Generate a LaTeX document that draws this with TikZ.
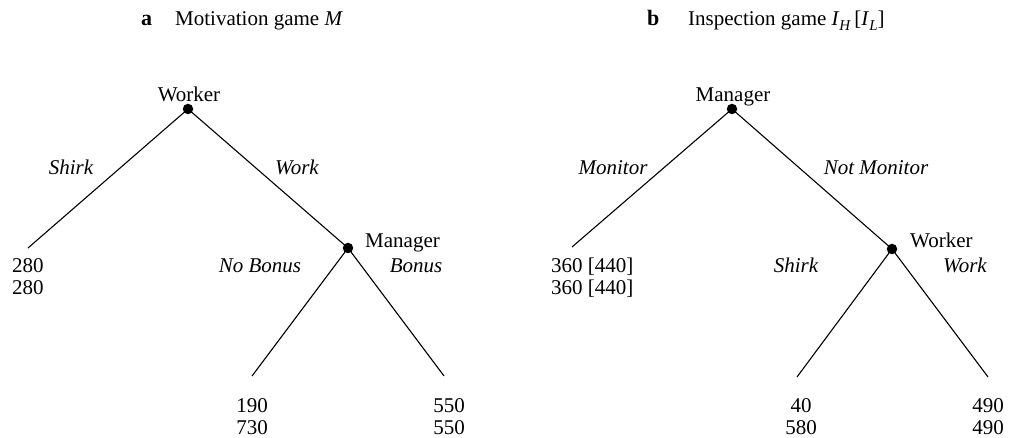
\documentclass[tikz,border=0pt]{standalone}
\usepackage{fontspec}
\setmainfont{Liberation Serif}
\tikzset{
  dot/.style={circle,fill=black,inner sep=0pt,minimum size=10.5pt},
  edge/.style={line width=1.1pt},
  lbl/.style={anchor=base,inner sep=0pt,font=\fontsize{21}{25}\selectfont\itshape},
  txt/.style={inner sep=0pt}
}
\newcommand{\subit}[1]{\raisebox{-0.22em}{\fontsize{15}{15}\selectfont\textit{#1}}}
\begin{document}
\begin{tikzpicture}[x=1pt,y=-1pt,font=\fontsize{21}{25}\selectfont]
\useasboundingbox (0,0) rectangle (1010,438);
% titles
\node[txt,anchor=base west] (ta) at (141,26) {\fontsize{22}{26}\selectfont\textbf{a}};
\node[txt,anchor=base west] (tm) at (175,26) {Motivation game \textit{M}};
\node[txt,anchor=base west] (tb) at (647,26) {\fontsize{22}{26}\selectfont\textbf{b}};
\node[txt,anchor=base west] (ti) at (688,26) {Inspection game \textit{I}\subit{H}\,[\textit{I}\subit{L}]};
% left tree
\node[dot] (w1) at (188,109) {};
\node[txt,anchor=base] (w1l) at (189,102) {Worker};
\coordinate (l1) at (28,248);
\node[dot] (m1) at (348,248) {};
\node[txt,anchor=base west] (m1l) at (365,248) {Manager};
\coordinate (l2) at (252,376);
\coordinate (l3) at (444,376);
\draw[edge] (w1.center) -- (l1);
\draw[edge] (w1.center) -- (m1.center);
\draw[edge] (m1.center) -- (l2);
\draw[edge] (m1.center) -- (l3);
\node[lbl] (e1) at (71,175) {Shirk};
\node[lbl] (e2) at (297,175) {Work};
\node[lbl] (e3) at (260,273) {No Bonus};
\node[lbl] (e4) at (416,273) {Bonus};
\node[txt,anchor=base west] (p1) at (12,273) {280};
\node[txt,anchor=base west] (p1b) at (12,295) {280};
\node[txt,anchor=base] (p2) at (252,413) {190};
\node[txt,anchor=base] (p2b) at (252,435) {730};
\node[txt,anchor=base] (p3) at (449,413) {550};
\node[txt,anchor=base] (p3b) at (449,435) {550};
% right tree
\node[dot] (m2) at (732,109) {};
\node[txt,anchor=base] (m2l) at (733,102) {Manager};
\coordinate (r1) at (572,247);
\node[dot] (w2) at (892,249) {};
\node[txt,anchor=base west] (w2l) at (910,248) {Worker};
\coordinate (r2) at (797,377);
\coordinate (r3) at (988,377);
\draw[edge] (m2.center) -- (r1);
\draw[edge] (m2.center) -- (w2.center);
\draw[edge] (w2.center) -- (r2);
\draw[edge] (w2.center) -- (r3);
\node[lbl] (f1) at (613,175) {Monitor};
\node[lbl] (f2) at (876,175) {Not Monitor};
\node[lbl] (f3) at (796,273) {Shirk};
\node[lbl] (f4) at (965,273) {Work};
\node[txt,anchor=base west] (q1) at (551,273) {360 [440]};
\node[txt,anchor=base west] (q1b) at (551,295) {360 [440]};
\node[txt,anchor=base] (q2) at (801,413) {40};
\node[txt,anchor=base] (q2b) at (801,435) {580};
\node[txt,anchor=base] (q3) at (988,413) {490};
\node[txt,anchor=base] (q3b) at (988,435) {490};
\end{tikzpicture}
\end{document}
